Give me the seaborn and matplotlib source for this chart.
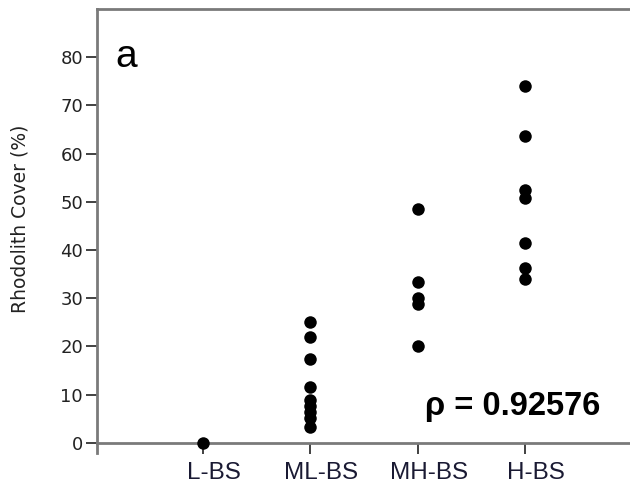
import matplotlib
matplotlib.use("Agg")
import matplotlib.pyplot as plt
from matplotlib import font_manager
import matplotlib.transforms as mtransforms
import seaborn as sns
import pandas as pd

categories = ["L-BS", "ML-BS", "MH-BS", "H-BS"]
l_bs = [0.0]
ml_bs = [25.0, 22.0, 17.5, 11.5, 8.8, 7.7, 6.5, 5.2, 3.3]
mh_bs = [48.6, 33.4, 30.0, 28.9, 20.1]
h_bs = [74.0, 63.6, 52.5, 50.7, 41.4, 36.2, 34.0]
yticks = [0, 10, 20, 30, 40, 50, 60, 70, 80]

rows = []
for cat, vals in zip(categories, [l_bs, ml_bs, mh_bs, h_bs]):
    for v in vals:
        rows.append({"group": cat, "cover": v})
df = pd.DataFrame(rows)


def find_font(name, weight):
    for f in font_manager.fontManager.ttflist:
        if f.name == name and f.weight == weight and f.style == "normal":
            return font_manager.FontProperties(fname=f.fname)
    return font_manager.FontProperties(family="DejaVu Sans",
                                       weight="bold" if weight >= 600 else "normal")


arial = find_font("Liberation Sans", 400)
arial_bold = find_font("Liberation Sans", 700)

sns.set_style("white")
plt.rcParams['font.family'] = ['DejaVu Sans']

fig = plt.figure(figsize=(6.3, 4.91), dpi=100)
ax = fig.add_axes([97/630, 1 - 453/491, 1 - 97/630, (453 - 9)/491])

sns.stripplot(data=df, x="group", y="cover", order=categories, jitter=False,
              color="black", size=9, ax=ax, zorder=5, clip_on=False)

ax.set_xlim(-0.99, 3.98)
ax.set_ylim(-2.1, 90)
ax.set_yticks(yticks)
ax.set_yticklabels([str(t) for t in yticks])
ax.set_xticks(range(len(categories)))
ax.set_xticklabels(categories)

spc = "#7a7a7a"
ax.spines["right"].set_visible(False)
ax.spines["bottom"].set_position(("data", 0))
for s in ["left", "top", "bottom"]:
    ax.spines[s].set_color(spc)
    ax.spines[s].set_linewidth(2.0)

ax.tick_params(axis="y", direction="out", length=8, width=1.3, color="#333333", left=True,
               pad=2, labelsize=13, labelcolor="#222222")
ax.tick_params(axis="x", direction="out", length=8, width=1.3, color="#333333", bottom=True,
               pad=6, labelsize=17.5, labelcolor="#1a1a33", labelfontfamily="Liberation Sans")

# shift x tick labels slightly to the right, as in the reference
shift = mtransforms.ScaledTranslation(11 / 100, 0, fig.dpi_scale_trans)
for lab in ax.get_xticklabels():
    lab.set_transform(lab.get_transform() + shift)

ax.set_xlabel("")
ax.set_ylabel("Rhodolith Cover (%)", fontsize=13.5, color="#222222")
ax.yaxis.set_label_coords((30 - 97) / 533, (453 - 219) / 444)

fa = arial.copy()
fa.set_size(28)
ax.text((126 - 97) / 533, (453 - 57) / 444, "a", transform=ax.transAxes,
        fontproperties=fa, ha="center", va="center", color="black")
fb = arial_bold.copy()
fb.set_size(23.5)
ax.text((425 - 97) / 533, (453 - 406) / 444, "ρ = 0.92576", transform=ax.transAxes,
        fontproperties=fb, ha="left", va="center", color="black")

fig.savefig("out.png", dpi=100)
